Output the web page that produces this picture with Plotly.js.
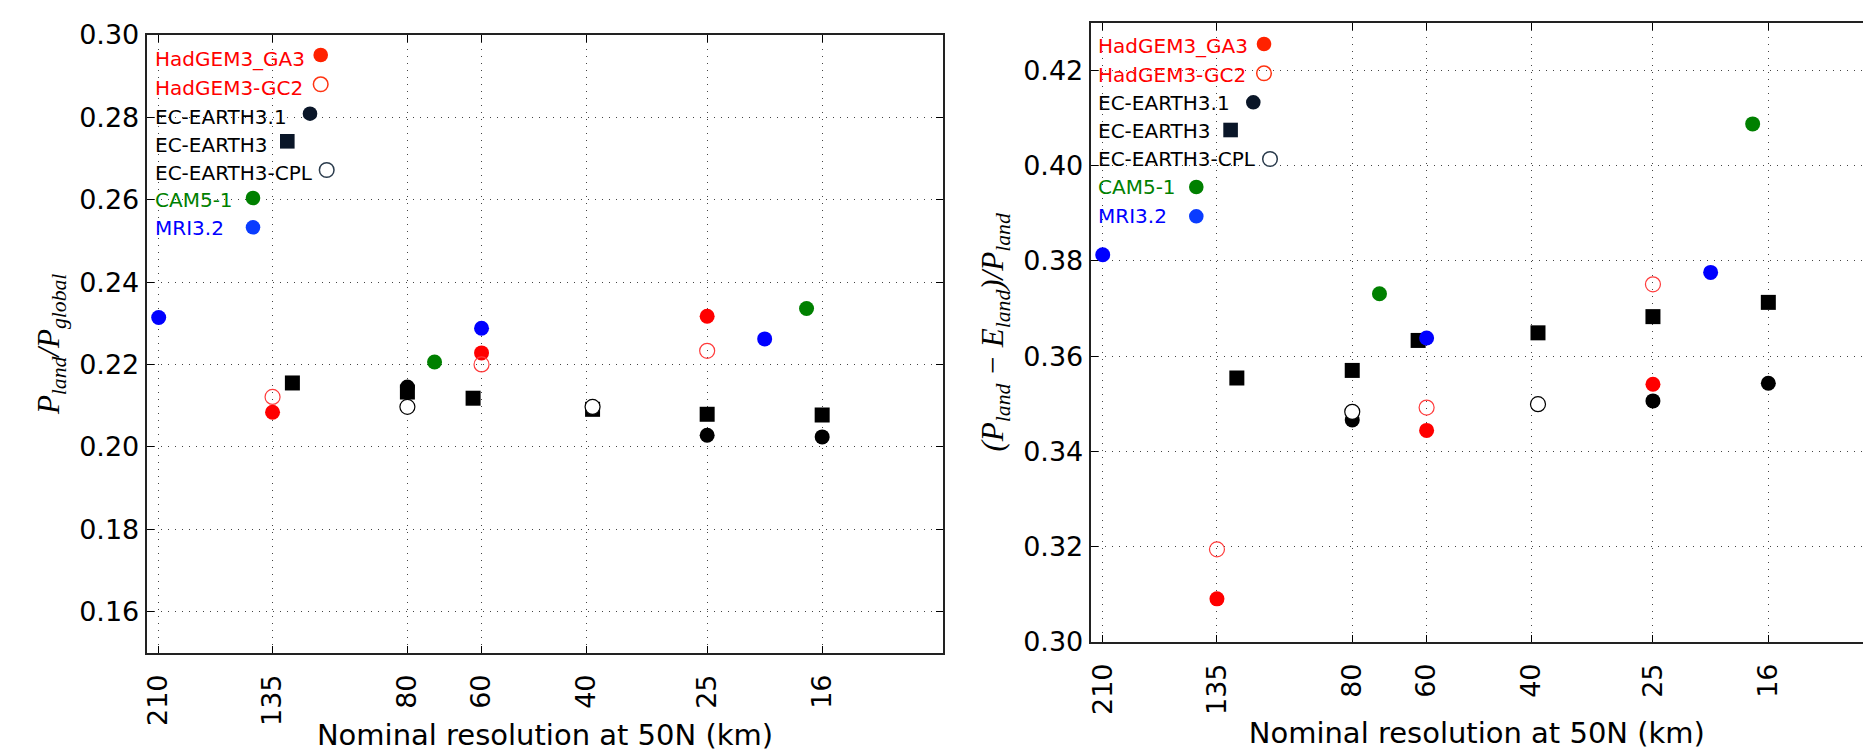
<!DOCTYPE html>
<html>
<head>
<meta charset="utf-8">
<script src="https://cdn.plot.ly/plotly-3.0.1.min.js"></script>
<style>html,body{margin:0;padding:0;background:#fff;}</style>
</head>
<body>
<div id="chart" style="width:1863px;height:752px;"></div>
<script>
// ---------------- DATA ----------------
const modelNames = ['HadGEM3_GA3', 'HadGEM3-GC2', 'EC-EARTH3.1', 'EC-EARTH3', 'EC-EARTH3-CPL', 'CAM5-1', 'MRI3.2'];

// nominal resolution at 50N (km) for each model's runs
const resGA3   = [135, 60, 25];
const resGC2   = [135, 60, 25];
const resEC31  = [80, 25, 16];
const resEC3   = [125, 80, 62, 39, 25, 16];
const resCPL   = [80, 39];
const resCAM5  = [72, 17];
const resMRI   = [210, 60, 20];

// P_land / P_global
const fracGA3  = [0.2084, 0.2228, 0.2317];
const fracGC2  = [0.2121, 0.2200, 0.2233];
const fracEC31 = [0.2145, 0.2028, 0.2024];
const fracEC3  = [0.2155, 0.2133, 0.2118, 0.2091, 0.2079, 0.2077];
const fracCPL  = [0.2097, 0.2097];
const fracCAM5 = [0.2206, 0.2336];
const fracMRI  = [0.2314, 0.2288, 0.2262];

// (P_land - E_land) / P_land
const pmeGA3   = [0.3090, 0.3444, 0.3541];
const pmeGC2   = [0.3194, 0.3492, 0.3751];
const pmeEC31  = [0.3466, 0.3506, 0.3543];
const pmeEC3   = [0.3554, 0.3570, 0.3633, 0.3649, 0.3683, 0.3713];
const pmeCPL   = [0.3483, 0.3499];
const pmeCAM5  = [0.3731, 0.4088];
const pmeMRI   = [0.3813, 0.3638, 0.3776];

const xTickVals = [210, 135, 80, 60, 40, 25, 16];
const yTicksLeft  = [0.16, 0.18, 0.20, 0.22, 0.24, 0.26, 0.28, 0.30];
const yTicksRight = [0.30, 0.32, 0.34, 0.36, 0.38, 0.40, 0.42];

// ---------------- STYLE ----------------
const FONT = 'DejaVu Sans';
const MATH = 'Liberation Serif';
const W = 1863, H = 752;
const M = {l: 146, r: 0, t: 23, b: 99};
const px = x => (x - M.l) / (W - M.l - M.r);
const py = y => (H - M.b - y) / (H - M.t - M.b);
const clamp = v => Math.max(0, Math.min(1, v));

const styles = [
  {symbol: 'circle', color: '#ff0000', line: {width: 0}, text: '#ff0000', lg: {fill: '#ff2200', edge: '#ff2200', shape: 'circle'}},
  {symbol: 'circle-open', color: '#ff3b3b', line: {width: 1.2, color: '#ff3b3b'}, text: '#ff0000', lg: {fill: 'rgba(0,0,0,0)', edge: '#ff3311', shape: 'circle'}},
  {symbol: 'circle', color: '#000000', line: {width: 0}, text: '#000000', lg: {fill: '#0a1628', edge: '#0a1628', shape: 'circle'}},
  {symbol: 'square', color: '#000000', line: {width: 0}, text: '#000000', lg: {fill: '#0a1628', edge: '#0a1628', shape: 'rect'}},
  {symbol: 'circle', color: '#ffffff', line: {width: 1.2, color: '#000000'}, text: '#000000', lg: {fill: 'rgba(0,0,0,0)', edge: '#2a3b4c', shape: 'circle'}},
  {symbol: 'circle', color: '#008000', line: {width: 0}, text: '#008000', lg: {fill: '#008000', edge: '#008000', shape: 'circle'}},
  {symbol: 'circle', color: '#0000ff', line: {width: 0}, text: '#0000ff', lg: {fill: '#0a3cff', edge: '#0a3cff', shape: 'circle'}},
];

const resAll  = [resGA3, resGC2, resEC31, resEC3, resCPL, resCAM5, resMRI];
const fracAll = [fracGA3, fracGC2, fracEC31, fracEC3, fracCPL, fracCAM5, fracMRI];
const pmeAll  = [pmeGA3, pmeGC2, pmeEC31, pmeEC3, pmeCPL, pmeCAM5, pmeMRI];

const traces = [];
modelNames.forEach((name, i) => {
  const s = styles[i];
  const marker = {symbol: s.symbol, size: 15, color: s.color, line: s.line};
  traces.push({type: 'scatter', mode: 'markers', name: name, x: resAll[i], y: fracAll[i],
               xaxis: 'x', yaxis: 'y', marker: marker, showlegend: false});
  traces.push({type: 'scatter', mode: 'markers', name: name, x: resAll[i], y: pmeAll[i],
               xaxis: 'x2', yaxis: 'y2', marker: marker, showlegend: false});
});

function xAxis(domain, side) {
  return {
    domain: domain, type: 'log', range: [Math.log10(220), side === 'right' ? 1.0451 : 1],
    tickmode: 'array', tickvals: xTickVals, ticktext: xTickVals.map(String), tickangle: -90,
    ticks: 'inside', ticklen: 7, tickwidth: 1, tickcolor: '#000',
    showline: true, linecolor: '#222', linewidth: 2, mirror: 'ticks',
    showgrid: true, gridcolor: '#444', griddash: '1px,6px', gridwidth: 1,
    zeroline: false, tickfont: {family: FONT, size: 27, color: '#000'},
    ticklabelstandoff: 9,
    title: {text: 'Nominal resolution at 50N (km)', font: {family: FONT, size: 29, color: '#000'}, standoff: 9}
  };
}
function yAxis(domain, range, ticks, title, mirror, anchor) {
  return {
    domain: domain, range: range, anchor: anchor,
    tickmode: 'array', tickvals: ticks, ticktext: ticks.map(v => v.toFixed(2)),
    ticks: 'inside', ticklen: 7, tickwidth: 1, tickcolor: '#000',
    showline: true, linecolor: '#222', linewidth: 2, mirror: mirror,
    showgrid: true, gridcolor: '#444', griddash: '1px,6px', gridwidth: 1,
    zeroline: false, tickfont: {family: FONT, size: 27, color: '#000'},
    ticklabelstandoff: 0,
    title: {text: title, font: {family: MATH, size: 31, color: '#000'}, standoff: 10}
  };
}

const layout = {
  width: W, height: H, margin: M,
  paper_bgcolor: '#fff', plot_bgcolor: '#fff',
  showlegend: false,
  xaxis: Object.assign(xAxis([clamp(px(146.7)), px(943.3)], 'left'), {anchor: 'y'}),
  yaxis: yAxis([clamp(py(652.7)), clamp(py(35))], [0.15, 0.30], yTicksLeft,
               '<i>P</i><sub><i>land</i></sub><i>/P</i><sub><i>global</i></sub>', 'ticks', 'x'),
  xaxis2: Object.assign(xAxis([px(1090.7), 1], 'right'), {anchor: 'y2'}),
  yaxis2: yAxis([clamp(py(641.7)), clamp(py(22.7))], [0.30, 0.43], yTicksRight,
                '<i>(P</i><sub><i>land</i></sub><i> − E</i><sub><i>land</i></sub><i>)/P</i><sub><i>land</i></sub>', false, 'x2'),
  annotations: [], shapes: []
};

// custom legends (text then marker), drawn in pixel positions
const legendPanels = [
  {textX: 156.7, textY: [57.2, 86.7, 115.5, 143, 171, 198.3, 226.7], markY: [55, 84.3, 113.7, 141.3, 170, 198, 227.3]},
  {textX: 1100,  textY: [44.5, 73.5, 101.5, 129.3, 157.8, 185.8, 214], markY: [44, 73.3, 102.3, 130, 159, 187, 216.3]},
];
const markerOffsets = [164, 164, 153.3, 130.6, 170, 96.3, 96.3];
legendPanels.forEach(p => {
  modelNames.forEach((name, i) => {
    const s = styles[i];
    layout.annotations.push({
      xref: 'paper', yref: 'paper', x: px(p.textX - 4), y: py(p.textY[i] + 1.5),
      xanchor: 'left', yanchor: 'middle', showarrow: false, text: name,
      font: {family: FONT, size: 20, color: s.text}
    });
    const cx = px(p.textX + markerOffsets[i]), cy = py(p.markY[i]);
    const r = 7.3;
    layout.shapes.push({
      type: s.lg.shape, xref: 'paper', yref: 'paper',
      xsizemode: 'pixel', ysizemode: 'pixel', xanchor: cx, yanchor: cy,
      x0: -r, x1: r, y0: -r, y1: r,
      fillcolor: s.lg.fill, line: {color: s.lg.edge, width: s.lg.fill === 'rgba(0,0,0,0)' ? 1.5 : 0}
    });
  });
});

Plotly.newPlot('chart', traces, layout, {displayModeBar: false, staticPlot: true});
</script>
</body>
</html>
